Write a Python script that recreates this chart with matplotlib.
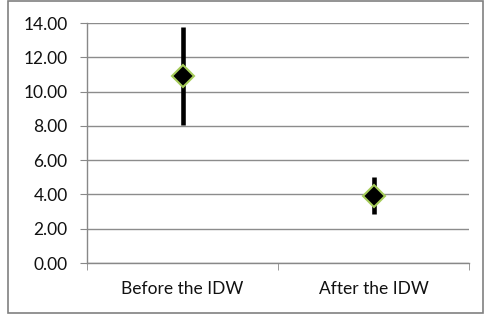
import matplotlib
matplotlib.use("Agg")
import matplotlib.pyplot as plt
from matplotlib.patches import Rectangle

categories = ["Before the IDW", "After the IDW"]
means = [10.9, 3.92]
errors = [2.87, 1.08]
yticks = [0, 2, 4, 6, 8, 10, 12, 14]

plt.rcParams['font.family'] = ['Lato', 'DejaVu Sans']

fig = plt.figure(figsize=(4.84, 3.2), dpi=100)
ax = fig.add_axes([87/484, 1-263/320, (469-87)/484, (263-23)/320])

x = list(range(len(categories)))
ax.errorbar(x, means, yerr=errors, fmt='D', color='black', ecolor='black',
            elinewidth=3.3, capsize=0, markersize=11,
            markerfacecolor='black', markeredgecolor='#a6cc5a', markeredgewidth=1.5,
            zorder=3)

ax.set_xlim(-0.5, len(categories) - 0.5)
ax.set_ylim(0, 14)
ax.set_yticks(yticks)
ax.set_yticklabels([f"{v:.2f}" for v in yticks], fontsize=12.5, color='#111111')
ax.set_xticks(x)
ax.set_xticklabels(categories, fontsize=12.5, color='#111111')
ax.set_xticks([-0.5, 0.5, 1.5], minor=True)
ax.tick_params(axis='x', which='major', length=0, pad=13)
ax.tick_params(axis='x', which='minor', length=5, color='#888888', direction='out')
ax.tick_params(axis='y', length=5, color='#888888', pad=9)

ax.grid(axis='y', color='#8c8c8c', linewidth=1.0, zorder=0)
ax.set_axisbelow(True)
for s in ['top', 'right']:
    ax.spines[s].set_visible(False)
for s in ['left', 'bottom']:
    ax.spines[s].set_color('#888888')
    ax.spines[s].set_linewidth(1.0)

fig.patches.append(Rectangle((8/484, 1-313/320), (483-8)/484, (313-0.5)/320,
                             transform=fig.transFigure, fill=False,
                             edgecolor='#808080', linewidth=1.2))

fig.savefig("out.png", dpi=100)
